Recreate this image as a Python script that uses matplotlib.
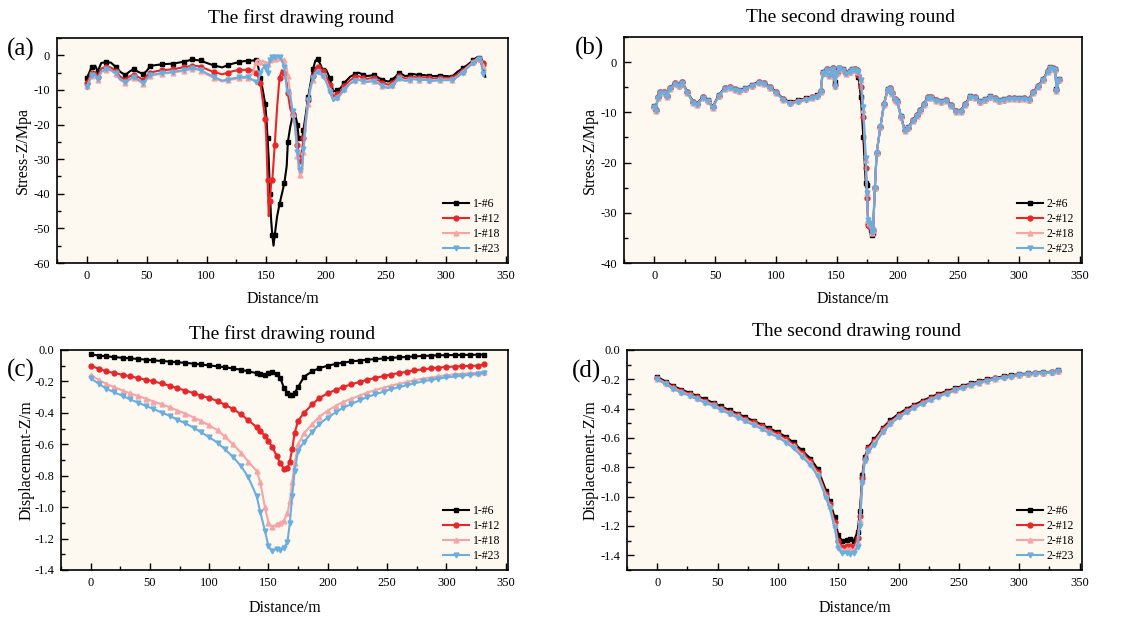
import numpy as np
import matplotlib.pyplot as plt
from matplotlib.ticker import MultipleLocator

plt.rcParams['font.family'] = ['Liberation Serif', 'DejaVu Serif']
plt.rcParams['axes.unicode_minus'] = False

# ---------------- data: stress, first drawing round (a) ----------------
dist_a = [0, 2, 4, 7, 9, 12, 16, 20, 24, 28, 32, 36, 39, 43, 47, 50, 53, 58, 63, 67,
          72, 77, 81, 85, 88, 92, 95, 100, 106, 113, 118, 123, 127, 131, 135, 139, 141, 143, 145, 147,
          149, 150, 151, 152, 153, 154, 155, 156, 157, 159, 161, 163, 165, 167, 168, 170, 172, 174, 176, 177,
          178, 180, 181, 183, 185, 187, 189, 191, 193, 195, 197, 200, 203, 206, 209, 212, 215, 220, 224, 227,
          231, 234, 240, 244, 247, 252, 255, 258, 261, 266, 270, 273, 278, 282, 286, 290, 295, 301, 305, 310,
          314, 318, 323, 326, 328, 330, 331, 333]
stress_a6 = [-6.5, -5.0, -3.3, -3.0, -4.7, -2.2, -2.0, -2.1, -3.3, -4.8, -5.7, -4.6, -4.0, -4.8, -5.4, -4.5, -3.1, -2.8, -2.6, -2.5,
             -2.4, -2.1, -1.8, -1.5, -1.2, -1.4, -1.5, -2.2, -2.9, -3.5, -2.8, -2.3, -2.0, -1.7, -1.6, -1.5, -1.5, -3.0, -6.5, -10,
             -14, -18, -24, -30, -40, -47.6, -52, -55, -52, -46.5, -43, -40, -37, -32, -25, -20.6, -17.5, -17, -20, -24,
             -24, -24, -21.6, -17, -12, -8, -4, -1.5, -1.2, -2.5, -4.2, -4.2, -6.5, -10.5, -10, -9.5, -8, -6.2, -5.5, -5.0,
             -5.6, -6.0, -5.7, -6.5, -7.1, -7.6, -7.0, -6.2, -5.0, -6.0, -5.8, -5.4, -5.8, -5.7, -6.0, -6.0, -5.9, -6.0, -6.2, -4.7,
             -3.8, -2.8, -1.4, -0.6, -0.8, -1.2, -2.5, -6.2]
stress_a12 = [-8.0, -6.5, -5.0, -4.8, -6.2, -3.8, -3.4, -3.5, -4.5, -6.2, -7.0, -6.0, -5.6, -6.3, -7.0, -6.0, -5.0, -4.6, -4.3, -4.2,
              -4.0, -3.7, -3.5, -3.2, -3.0, -3.1, -3.3, -4.0, -4.8, -5.5, -5.0, -4.5, -4.3, -4.2, -4.2, -4.4, -5.0, -6.0, -8.0, -13,
              -18.5, -24, -36, -46.5, -42, -37, -36, -31, -26, -15, -6.5, -4.3, -5.0, -8, -11, -15.5, -17.0, -19, -26, -29,
              -30.5, -27, -24, -18, -13, -9, -6, -4.0, -3.5, -3.8, -4.6, -6.0, -8.5, -12, -11.2, -10.5, -9.0, -7.2, -6.4, -6.0,
              -6.5, -6.8, -6.5, -7.3, -8.0, -8.5, -8.0, -7.0, -6.0, -6.7, -6.6, -6.2, -6.5, -6.4, -6.6, -6.7, -6.5, -6.5, -6.6, -5.5,
              -4.5, -3.2, -1.8, -0.9, -1.0, -1.5, -2.2, -3.0]
stress_a18 = [-9.0, -7.5, -6.0, -5.8, -7.0, -4.8, -4.2, -4.4, -5.4, -7.2, -8.0, -7.0, -6.5, -7.3, -8.2, -7.0, -6.0, -5.6, -5.3, -5.2,
              -5.0, -4.7, -4.5, -4.2, -4.0, -4.1, -4.4, -5.5, -6.5, -7.6, -7.2, -6.9, -6.7, -6.6, -6.5, -5.0, -2.0, -1.2, -2.0, -1.5,
              -2.2, -2.0, -2.5, -2.0, -1.5, -1.2, -1.0, -1.5, -1.2, -1.0, -0.8, -1.0, -1.5, -3.5, -6, -11, -17, -21, -29, -33,
              -34.5, -34, -28, -20, -14, -9.5, -7, -5.0, -4.6, -5.0, -5.8, -7.3, -10, -13, -12, -11.2, -9.8, -8.0, -7.2, -6.9,
              -7.3, -7.5, -7.3, -8.0, -8.8, -9.3, -8.6, -7.6, -6.5, -7.2, -7.0, -6.7, -7.0, -6.9, -7.1, -7.2, -7.0, -7.0, -7.0, -6.0,
              -4.8, -3.5, -2.0, -1.0, -1.1, -1.7, -3.0, -4.0]
stress_a23 = [-9.2, -7.3, -5.8, -5.6, -6.8, -4.6, -4.0, -4.2, -5.2, -7.0, -7.8, -6.8, -6.3, -7.1, -8.0, -6.8, -5.8, -5.4, -5.1, -5.0,
              -4.8, -4.5, -4.3, -4.0, -3.8, -3.9, -4.2, -5.2, -6.2, -7.3, -7.0, -6.6, -6.4, -6.3, -6.3, -7.2, -7.6, -7.5, -5.0, -3.8,
              -3.3, -4.5, -5.0, -3.0, -1.5, -0.8, -0.5, -0.8, -0.6, -0.5, -0.4, -1.5, -3.5, -9.5, -10.5, -12, -16, -20.5, -28, -31,
              -33, -32, -27, -19, -13, -9, -6.5, -5.2, -4.8, -5.3, -6.0, -7.6, -10.5, -13.2, -12.2, -11.4, -10.0, -8.2, -7.4, -7.1,
              -7.5, -7.7, -7.5, -8.2, -9.0, -9.5, -8.8, -7.8, -6.7, -7.4, -7.2, -6.9, -7.2, -7.1, -7.3, -7.4, -7.2, -7.2, -7.2, -6.2,
              -5.0, -3.7, -2.2, -1.2, -1.2, -1.8, -5.5, -4.5]

# ---------------- data: stress, second drawing round (b) ----------------
dist_b = [0, 1, 3, 5, 8, 10, 13, 17, 20, 23, 27, 32, 35, 40, 44, 48, 53, 58, 62, 66,
          70, 75, 80, 86, 90, 95, 100, 106, 112, 118, 125, 130, 134, 137, 138.5, 140, 142, 144, 146, 147,
          148, 149, 150, 152, 155, 158, 161, 163, 165, 167, 168, 170, 172, 174, 175, 176, 177, 178, 179, 180,
          181.5, 183, 186, 189, 192, 194, 196, 198, 200, 203, 206, 209, 213, 216, 219, 222, 225, 228, 232, 236,
          240, 244, 248, 252, 256, 260, 264, 268, 272, 276, 280, 284, 288, 292, 296, 300, 304, 308, 312, 316,
          320, 324, 326, 328, 330, 331, 333]
stress_b6 = [-8.8, -9.5, -6.9, -5.9, -5.9, -6.7, -5.1, -4.1, -4.6, -3.9, -5.9, -7.9, -8.3, -6.9, -7.6, -8.9, -6.6, -5.1, -4.9, -5.3,
             -5.6, -5.2, -4.6, -3.9, -4.1, -4.9, -5.9, -7.3, -8.0, -7.6, -7.2, -6.9, -6.6, -5.7, -2.0, -2.0, -1.3, -2.5, -1.4, -1.2,
             -2.6, -4.0, -2.0, -1.1, -1.4, -2.1, -1.8, -1.4, -1.3, -1.6, -3.0, -7.0, -15, -24, -24.5, -32, -32.5, -33.5, -34.5, -34,
             -25, -18, -13, -8.3, -5.4, -5.1, -6.1, -7.3, -7.8, -10.8, -13.5, -13.0, -11.5, -10.5, -9.5, -8.3, -6.9, -6.9, -7.5, -7.8,
             -7.5, -8.5, -9.7, -9.7, -8.3, -6.8, -6.9, -7.8, -7.4, -6.8, -7.1, -7.6, -7.4, -7.1, -7.1, -7.2, -7.1, -7.4, -5.9, -4.7,
             -3.4, -1.7, -1.0, -1.1, -1.4, -5.4, -3.4]
stress_b12 = [-8.9, -9.6, -7.0, -6.0, -6.0, -6.8, -5.2, -4.2, -4.7, -4.0, -6.0, -8.0, -8.4, -7.0, -7.7, -9.0, -6.7, -5.2, -5.0, -5.4,
              -5.7, -5.3, -4.7, -4.0, -4.2, -5.0, -6.0, -7.4, -8.1, -7.7, -7.3, -7.0, -6.7, -5.8, -2.1, -2.1, -1.4, -2.6, -1.5, -1.2,
              -2.8, -4.5, -2.1, -1.1, -1.5, -2.2, -1.9, -1.5, -1.4, -1.6, -2.5, -5.0, -11, -21, -27, -32.5, -32.7, -33, -34, -33.5,
              -25, -18, -13, -8.4, -5.5, -5.2, -6.2, -7.4, -7.9, -10.9, -13.6, -13.1, -11.6, -10.6, -9.6, -8.4, -7.0, -7.0, -7.6, -7.9,
              -7.6, -8.6, -9.8, -9.8, -8.4, -6.9, -7.0, -7.9, -7.5, -6.9, -7.2, -7.7, -7.5, -7.2, -7.2, -7.3, -7.2, -7.5, -6.0, -4.8,
              -3.5, -1.8, -1.1, -1.2, -1.5, -5.6, -3.5]
stress_b18 = [-9.0, -9.7, -7.1, -6.1, -6.1, -6.9, -5.3, -4.3, -4.8, -4.1, -6.1, -8.1, -8.5, -7.1, -7.8, -9.1, -6.8, -5.3, -5.1, -5.5,
              -5.8, -5.4, -4.8, -4.1, -4.3, -5.1, -6.1, -7.5, -8.2, -7.8, -7.4, -7.1, -6.8, -5.9, -2.2, -2.2, -1.5, -2.7, -1.6, -1.3,
              -2.9, -4.8, -2.2, -1.2, -1.6, -2.3, -2.0, -1.6, -1.5, -1.7, -2.0, -3.5, -9.5, -19.5, -26, -31.5, -32, -32.5, -34, -33.5,
              -25, -18, -13, -8.5, -5.6, -5.3, -6.3, -7.5, -8.0, -11, -13.7, -13.2, -11.7, -10.7, -9.7, -8.5, -7.1, -7.1, -7.7, -8.0,
              -7.7, -8.7, -9.9, -9.9, -8.5, -7.0, -7.1, -8.0, -7.6, -7.0, -7.3, -7.8, -7.6, -7.3, -7.3, -7.4, -7.3, -7.6, -6.1, -4.9,
              -3.6, -1.9, -1.2, -1.3, -1.6, -5.7, -3.6]
stress_b23 = [-8.9, -9.7, -7.1, -6.1, -6.1, -6.9, -5.3, -4.3, -4.8, -4.1, -6.1, -8.1, -8.5, -7.1, -7.8, -9.1, -6.8, -5.3, -5.1, -5.5,
              -5.8, -5.4, -4.8, -4.1, -4.3, -5.1, -6.1, -7.5, -8.3, -7.9, -7.5, -7.2, -6.9, -5.9, -2.2, -2.3, -1.6, -2.8, -1.6, -1.3,
              -3.0, -5.0, -2.2, -1.2, -1.6, -2.3, -2.0, -1.6, -1.5, -1.7, -2.0, -3.5, -9.0, -19, -26, -31.5, -32, -32.5, -34, -33.5,
              -25, -18, -13, -8.5, -5.6, -5.3, -6.3, -7.5, -8.0, -11, -13.7, -13.2, -11.7, -10.7, -9.7, -8.5, -7.1, -7.1, -7.7, -8.0,
              -7.7, -8.7, -9.9, -9.9, -8.5, -7.0, -7.1, -8.0, -7.6, -7.0, -7.3, -7.8, -7.6, -7.3, -7.3, -7.4, -7.3, -7.6, -6.1, -4.9,
              -3.6, -1.9, -1.2, -1.3, -1.6, -5.8, -3.6]

# ---------------- data: displacement (c, d) ----------------
dist_disp = [0, 7, 13, 20, 27, 33, 40, 47, 53, 60, 67, 73, 80, 87, 93, 100, 107, 113, 120, 127,
             133, 140, 143, 147, 150, 153, 157, 160, 163, 166, 168, 170, 172, 175, 180, 187, 193, 200, 207, 213,
             220, 227, 233, 240, 247, 253, 260, 267, 273, 280, 287, 293, 300, 307, 313, 320, 327, 332]
disp_c6 = [-0.028, -0.035, -0.04, -0.045, -0.05, -0.053, -0.057, -0.062, -0.066, -0.07, -0.074, -0.078, -0.082, -0.087, -0.092, -0.098, -0.104, -0.11, -0.117, -0.126,
           -0.136, -0.147, -0.152, -0.157, -0.145, -0.14, -0.15, -0.18, -0.24, -0.275, -0.285, -0.288, -0.275, -0.235, -0.17, -0.135, -0.115, -0.1, -0.088, -0.08,
           -0.073, -0.067, -0.062, -0.058, -0.054, -0.05, -0.047, -0.044, -0.041, -0.038, -0.036, -0.034, -0.033, -0.032, -0.031, -0.031, -0.03, -0.03]
disp_c12 = [-0.1, -0.12, -0.135, -0.147, -0.158, -0.167, -0.178, -0.19, -0.2, -0.213, -0.228, -0.243, -0.258, -0.275, -0.29, -0.305, -0.325, -0.347, -0.375, -0.41,
            -0.448, -0.49, -0.515, -0.545, -0.58, -0.615, -0.675, -0.72, -0.755, -0.75, -0.71, -0.63, -0.53, -0.45, -0.4, -0.345, -0.305, -0.275, -0.253, -0.235,
            -0.218, -0.203, -0.19, -0.178, -0.166, -0.156, -0.147, -0.138, -0.13, -0.123, -0.117, -0.112, -0.108, -0.105, -0.103, -0.101, -0.1, -0.092]
disp_c18 = [-0.16, -0.19, -0.215, -0.237, -0.258, -0.275, -0.293, -0.31, -0.328, -0.345, -0.365, -0.385, -0.405, -0.43, -0.45, -0.48, -0.51, -0.55, -0.6, -0.655,
            -0.71, -0.77, -0.84, -1.0, -1.1, -1.125, -1.11, -1.1, -1.085, -1.04, -0.96, -0.84, -0.72, -0.6, -0.53, -0.47, -0.425, -0.385, -0.355, -0.33,
            -0.31, -0.29, -0.272, -0.255, -0.24, -0.228, -0.215, -0.203, -0.192, -0.183, -0.175, -0.168, -0.161, -0.155, -0.151, -0.148, -0.145, -0.14]
disp_c23 = [-0.18, -0.215, -0.245, -0.27, -0.292, -0.313, -0.335, -0.357, -0.375, -0.398, -0.42, -0.443, -0.467, -0.495, -0.523, -0.555, -0.59, -0.63, -0.68, -0.74,
            -0.81, -0.93, -1.03, -1.15, -1.25, -1.28, -1.265, -1.27, -1.26, -1.22, -1.1, -0.93, -0.77, -0.64, -0.585, -0.52, -0.47, -0.43, -0.395, -0.368,
            -0.343, -0.32, -0.3, -0.282, -0.265, -0.25, -0.237, -0.223, -0.212, -0.2, -0.19, -0.182, -0.174, -0.168, -0.163, -0.158, -0.153, -0.145]
disp_d6 = [-0.183, -0.215, -0.245, -0.27, -0.292, -0.313, -0.337, -0.362, -0.385, -0.41, -0.435, -0.458, -0.483, -0.51, -0.535, -0.56, -0.595, -0.63, -0.685, -0.74,
           -0.81, -0.96, -1.03, -1.14, -1.26, -1.3, -1.295, -1.29, -1.3, -1.24, -1.1, -0.85, -0.73, -0.66, -0.61, -0.53, -0.48, -0.435, -0.4, -0.375,
           -0.345, -0.32, -0.3, -0.28, -0.26, -0.245, -0.228, -0.213, -0.2, -0.19, -0.18, -0.172, -0.165, -0.16, -0.155, -0.152, -0.148, -0.138]
disp_d12 = [-0.19, -0.222, -0.252, -0.278, -0.3, -0.322, -0.346, -0.371, -0.394, -0.42, -0.445, -0.468, -0.494, -0.521, -0.547, -0.573, -0.608, -0.645, -0.7, -0.757,
            -0.83, -0.98, -1.05, -1.17, -1.3, -1.34, -1.335, -1.335, -1.34, -1.28, -1.13, -0.87, -0.74, -0.67, -0.62, -0.54, -0.49, -0.445, -0.41, -0.383,
            -0.353, -0.328, -0.307, -0.286, -0.266, -0.25, -0.233, -0.218, -0.205, -0.194, -0.184, -0.176, -0.168, -0.163, -0.158, -0.154, -0.15, -0.14]
disp_d18 = [-0.195, -0.228, -0.258, -0.284, -0.307, -0.329, -0.353, -0.378, -0.402, -0.428, -0.453, -0.477, -0.503, -0.53, -0.557, -0.584, -0.62, -0.657, -0.713, -0.77,
            -0.845, -0.995, -1.065, -1.19, -1.33, -1.365, -1.36, -1.36, -1.365, -1.31, -1.16, -0.89, -0.75, -0.68, -0.63, -0.55, -0.498, -0.453, -0.417, -0.39,
            -0.36, -0.334, -0.313, -0.292, -0.271, -0.255, -0.238, -0.222, -0.209, -0.197, -0.187, -0.179, -0.171, -0.165, -0.16, -0.156, -0.152, -0.143]
disp_d23 = [-0.2, -0.234, -0.264, -0.29, -0.313, -0.336, -0.36, -0.385, -0.41, -0.436, -0.462, -0.486, -0.512, -0.54, -0.567, -0.595, -0.632, -0.67, -0.727, -0.785,
            -0.86, -1.01, -1.08, -1.21, -1.35, -1.385, -1.385, -1.39, -1.385, -1.34, -1.2, -0.91, -0.76, -0.69, -0.645, -0.56, -0.507, -0.46, -0.424, -0.396,
            -0.366, -0.34, -0.318, -0.297, -0.276, -0.26, -0.242, -0.226, -0.212, -0.2, -0.19, -0.181, -0.173, -0.167, -0.162, -0.158, -0.154, -0.145]

labels_1 = ['1-#6', '1-#12', '1-#18', '1-#23']
labels_2 = ['2-#6', '2-#12', '2-#18', '2-#23']
colors = ['#000000', '#e8262a', '#f4a6a6', '#6aaee0']
markers = ['s', 'o', '^', 'v']

W, H = 1131, 618
fig = plt.figure(figsize=(W / 100, H / 100), dpi=100)


def box(l, t, r, b):
    return [l / W, 1 - b / H, (r - l) / W, (b - t) / H]


def one_decimal(v, pos):
    if abs(v) < 1e-9:
        v = 0.0
    return f'{v:.1f}'


def style(ax, ylim, ymaj, ymin, ylabel):
    ax.set_facecolor('#fef9f0')
    ax.set_xlim(-25, 352)
    ax.set_ylim(*ylim)
    ax.xaxis.set_major_locator(MultipleLocator(50))
    ax.xaxis.set_minor_locator(MultipleLocator(25))
    ax.yaxis.set_major_locator(MultipleLocator(ymaj))
    ax.yaxis.set_minor_locator(MultipleLocator(ymin))
    ax.tick_params(which='both', direction='in', labelsize=9, top=False, right=False)
    ax.tick_params(which='major', length=5, width=1, pad=5)
    ax.tick_params(which='minor', length=3, width=1)
    for s in ax.spines.values():
        s.set_linewidth(1.2)
    ax.set_xlabel('Distance/m', fontsize=11.5)
    ax.set_ylabel(ylabel, fontsize=11.5)


def draw(ax, x, series, labels, every):
    for y, lab, c, m in zip(series, labels, colors, markers):
        ax.plot(x, y, color=c, marker=m, markersize=3.5, linewidth=1.5,
                markevery=every, label=lab)
    ax.legend(loc='lower right', frameon=False, fontsize=8.5, handlelength=2.2,
              labelspacing=0.25, handletextpad=0.3, borderaxespad=0.25)


ax_a = fig.add_axes(box(57, 38, 508, 263))
draw(ax_a, dist_a, [stress_a6, stress_a12, stress_a18, stress_a23], labels_1, 2)
style(ax_a, (-60, 5), 10, 5, 'Stress-Z/Mpa')
ax_a.set_yticks([0, -10, -20, -30, -40, -50, -60])
ax_a.xaxis.set_label_coords(0.5, -0.125)
ax_a.yaxis.set_label_coords(-0.058, 0.5)

ax_b = fig.add_axes(box(624, 37, 1082, 263))
draw(ax_b, dist_b, [stress_b6, stress_b12, stress_b18, stress_b23], labels_2, 1)
style(ax_b, (-40, 5), 10, 5, 'Stress-Z/Mpa')
ax_b.set_yticks([0, -10, -20, -30, -40])
ax_b.xaxis.set_label_coords(0.5, -0.125)
ax_b.yaxis.set_label_coords(-0.057, 0.5)

ax_c = fig.add_axes(box(61, 350, 508, 570))
draw(ax_c, dist_disp, [disp_c6, disp_c12, disp_c18, disp_c23], labels_1, 1)
style(ax_c, (-1.4, 0), 0.2, 0.1, 'Displacement-Z/m')
ax_c.yaxis.set_major_formatter(one_decimal)
ax_c.xaxis.set_label_coords(0.5, -0.135)
ax_c.yaxis.set_label_coords(-0.06, 0.5)

ax_d = fig.add_axes(box(627, 350, 1082, 570))
draw(ax_d, dist_disp, [disp_d6, disp_d12, disp_d18, disp_d23], labels_2, 1)
style(ax_d, (-1.5, 0), 0.2, 0.1, 'Displacement-Z/m')
ax_d.set_yticks(np.round(np.arange(-1.4, 0.01, 0.2), 1))
ax_d.yaxis.set_major_formatter(one_decimal)
ax_d.xaxis.set_label_coords(0.5, -0.135)
ax_d.yaxis.set_label_coords(-0.062, 0.5)

# titles and panel letters
fig.text(301 / W, 1 - 18 / H, 'The first drawing round', ha='center', va='center', fontsize=14)
fig.text(851 / W, 1 - 18 / H, 'The second drawing round', ha='center', va='center', fontsize=14)
fig.text(282 / W, 1 - 334 / H, 'The first drawing round', ha='center', va='center', fontsize=14)
fig.text(856 / W, 1 - 331 / H, 'The second drawing round', ha='center', va='center', fontsize=14)
for lab, x, y in [('(a)', 21, 49), ('(b)', 589, 48), ('(c)', 21, 370), ('(d)', 586, 371)]:
    fig.text(x / W, 1 - y / H, lab, ha='center', va='center', fontsize=18)

fig.savefig('out.png', dpi=100)
